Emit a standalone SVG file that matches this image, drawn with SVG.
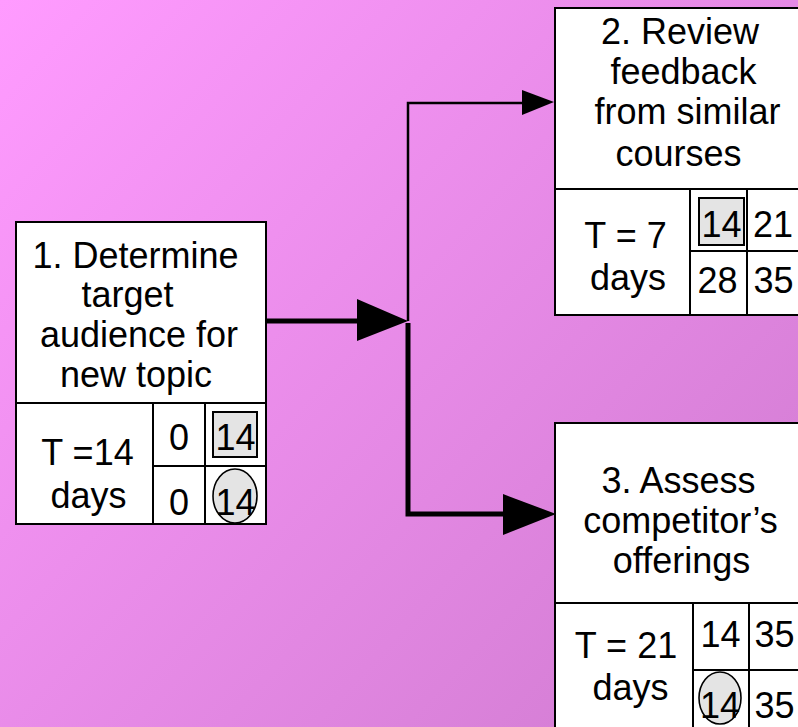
<svg xmlns="http://www.w3.org/2000/svg" width="798" height="727" viewBox="0 0 798 727">
  <defs>
    <linearGradient id="bg" x1="0" y1="0" x2="798" y2="727" gradientUnits="userSpaceOnUse">
      <stop offset="0" stop-color="#FF9BFF"/>
      <stop offset="1" stop-color="#CF7ACF"/>
    </linearGradient>
    <style>
      .box { fill: #ffffff; stroke: #000000; stroke-width: 2; }
      .grid { fill: none; stroke: #000000; stroke-width: 2; }
      .mark { fill: #e4e4e4; stroke: #000000; stroke-width: 2; }
      .ring { fill: #e4e4e4; stroke: #000000; stroke-width: 1.6; }
      text { font-family: "Liberation Sans", Arial, sans-serif; font-size: 36px; fill: #000000; text-anchor: middle; }
      .thin { fill: none; stroke: #000000; stroke-width: 2.5; }
      .thick { fill: none; stroke: #000000; stroke-width: 5; }
      .head { fill: #000000; }
    </style>
  </defs>

  <rect x="0" y="0" width="798" height="727" fill="url(#bg)"/>

  <!-- connectors -->
  <g id="connectors">
    <line class="thick" x1="266" y1="321" x2="360" y2="321"/>
    <polygon class="head" points="357,299 408,321 357,341"/>
    <polyline class="thin" points="408,321 408,103 525,103"/>
    <polygon class="head" points="522,90 554,102 522,115"/>
    <polyline class="thick" points="408,323 408,514 506,514"/>
    <polygon class="head" points="503,494 556,514 503,535"/>
  </g>

  <!-- activity 1 -->
  <g id="node1">
    <rect class="box" x="16" y="222" width="250" height="302"/>
    <line class="grid" x1="16" y1="403" x2="266" y2="403"/>
    <line class="grid" x1="153" y1="403" x2="153" y2="524"/>
    <line class="grid" x1="205" y1="403" x2="205" y2="524"/>
    <line class="grid" x1="153" y1="466" x2="266" y2="466"/>
    <text x="135.5" y="268">1. Determine</text>
    <text x="127.5" y="307">target</text>
    <text x="139" y="347">audience for</text>
    <text x="136" y="387">new topic</text>
    <text x="87.5" y="465">T =14</text>
    <text x="88.5" y="508">days</text>
    <text x="179" y="450">0</text>
    <rect class="mark" x="213" y="412" width="44" height="45"/>
    <text x="235.5" y="450">14</text>
    <text x="179" y="515">0</text>
    <ellipse class="ring" cx="235" cy="496" rx="22" ry="27"/>
    <text x="235.5" y="515">14</text>
  </g>

  <!-- activity 2 -->
  <g id="node2">
    <rect class="box" x="555" y="8" width="252" height="307"/>
    <line class="grid" x1="555" y1="189" x2="807" y2="189"/>
    <line class="grid" x1="690" y1="189" x2="690" y2="315"/>
    <line class="grid" x1="747" y1="189" x2="747" y2="315"/>
    <line class="grid" x1="690" y1="251" x2="807" y2="251"/>
    <text x="680" y="44">2. Review</text>
    <text x="683.5" y="84">feedback</text>
    <text x="687.5" y="124">from similar</text>
    <text x="678.5" y="166">courses</text>
    <text x="625.5" y="248">T = 7</text>
    <text x="628" y="290">days</text>
    <rect class="mark" x="699" y="198" width="45" height="47"/>
    <text x="721.5" y="237">14</text>
    <text x="773" y="237">21</text>
    <text x="717.5" y="293">28</text>
    <text x="773.5" y="293">35</text>
  </g>

  <!-- activity 3 -->
  <g id="node3">
    <rect class="box" x="555" y="423" width="252" height="310"/>
    <line class="grid" x1="555" y1="603" x2="807" y2="603"/>
    <line class="grid" x1="693" y1="603" x2="693" y2="733"/>
    <line class="grid" x1="749" y1="603" x2="749" y2="733"/>
    <line class="grid" x1="693" y1="670" x2="807" y2="670"/>
    <text x="678.5" y="493">3. Assess</text>
    <text x="680.5" y="533">competitor’s</text>
    <text x="681.5" y="573">offerings</text>
    <text x="626" y="658">T = 21</text>
    <text x="630.5" y="700">days</text>
    <text x="720.5" y="647">14</text>
    <text x="774.5" y="647">35</text>
    <ellipse class="ring" cx="720" cy="698" rx="21" ry="26"/>
    <text x="720" y="718">14</text>
    <text x="774.5" y="718">35</text>
  </g>
</svg>
